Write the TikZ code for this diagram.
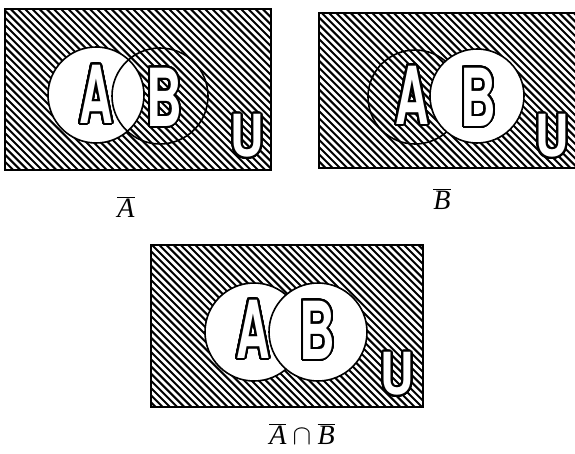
\RequirePackage{fix-cm}
\documentclass[tikz,border=0pt]{standalone}
\usepackage{fontspec}
\setmainfont{Liberation Serif}
\newfontfamily\letterfont{TeX Gyre Heros}
\usepackage{contour}
\contourlength{2pt}
\contournumber{40}
\tikzset{
  frame/.style={draw=black, line width=1.8pt},
  setcircle/.style={draw=black, line width=1.6pt},
  hatchline/.style={line width=2pt, line cap=butt},
  biglet/.style={inner sep=0pt, font=\letterfont\bfseries\fontsize{80}{80}\selectfont},
  ulet/.style={inner sep=0pt, font=\letterfont\bfseries\fontsize{58}{58}\selectfont},
  caption/.style={inner sep=0pt, font=\fontsize{28}{30}\selectfont}
}
\newcommand{\OutLet}[2]{\contour{black}{\scalebox{#1}[1]{\textcolor{white}{#2}}}}
\begin{document}
\begin{tikzpicture}[x=1pt,y=-1pt]
\useasboundingbox (0,0) rectangle (575,453);
\fill[white] (0,0) rectangle (575,453);

% ---------- Panel 1: complement of A ----------
\coordinate (p1a) at (5,9);
\coordinate (p1b) at (271,170);
\begin{scope}
  \clip (p1a) rectangle (p1b);
  \foreach \t in {-200,-192.8,...,300} { \draw[hatchline] (\t,0) -- (\t+200,200); }
\end{scope}
\fill[white] (96,95) circle (48);
\draw[setcircle] (96,95) circle (48);
\draw[setcircle] (160,96) circle (48);
\draw[frame] (p1a) rectangle (p1b);
\node[biglet] (A1) at (96,95) {\OutLet{0.58}{A}};
\node[biglet] (B1) at (164,98) {\OutLet{0.62}{B}};
\node[ulet] (U1) at (247,137) {\OutLet{0.8}{U}};
\node[caption] (c1) at (126,207) {$\overline{\textit{A}}$};

% ---------- Panel 2: complement of B ----------
\coordinate (p2a) at (319,13);
\coordinate (p2b) at (576,168);
\begin{scope}
  \clip (p2a) rectangle (p2b);
  \foreach \t in {100,107.2,...,600} { \draw[hatchline] (\t,0) -- (\t+200,200); }
\end{scope}
\draw[setcircle] (415,97) circle (47);
\fill[white] (477,96) circle (47);
\draw[setcircle] (477,96) circle (47);
\draw[frame] (p2a) rectangle (p2b);
\node[biglet] (A2) at (412,96) {\OutLet{0.58}{A}};
\node[biglet] (B2) at (478,98) {\OutLet{0.62}{B}};
\node[ulet] (U2) at (552,137) {\OutLet{0.8}{U}};
\node[caption] (c2) at (442,199) {$\overline{\textit{B}}$};

% ---------- Panel 3: complement of A intersect complement of B ----------
\coordinate (p3a) at (151,245);
\coordinate (p3b) at (423,407);
\begin{scope}
  \clip (p3a) rectangle (p3b);
  \foreach \t in {-100,-92.8,...,450} { \draw[hatchline] (\t,245) -- (\t+200,445); }
\end{scope}
\fill[white] (254,332) circle (49);
\draw[setcircle] (254,332) circle (49);
\fill[white] (318,332) circle (49);
\draw[setcircle] (318,332) circle (49);
\draw[frame] (p3a) rectangle (p3b);
\node[biglet] (A3) at (253,330) {\OutLet{0.58}{A}};
\node[biglet] (B3) at (317,331) {\OutLet{0.62}{B}};
\node[ulet] (U3) at (397,375) {\OutLet{0.8}{U}};
\node[caption] (c3) at (302,434) {$\overline{\textit{A}}\cap\overline{\textit{B}}$};
\end{tikzpicture}
\end{document}
